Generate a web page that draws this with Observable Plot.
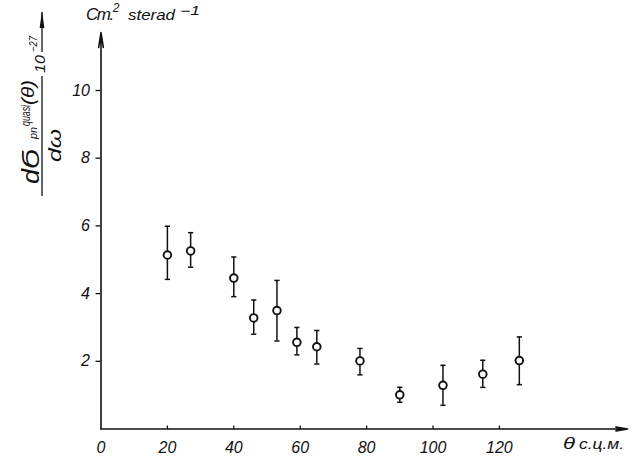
<!DOCTYPE html>
<html>
<head>
<meta charset="utf-8">
<script src="https://cdn.jsdelivr.net/npm/d3@7"></script>
<script src="https://cdn.jsdelivr.net/npm/@observablehq/plot@0.6"></script>
<style>
  html, body { margin: 0; padding: 0; background: #fff; }
</style>
</head>
<body>
<div id="chart"></div>
<script>
// ---- data ----
const theta   = [20, 27, 40, 46, 53, 59, 65, 78, 90, 103, 115, 126];
const sigma   = [5.14, 5.26, 4.46, 3.28, 3.50, 2.56, 2.43, 2.01, 1.01, 1.29, 1.62, 2.02];
const errLow  = [4.42, 4.78, 3.91, 2.80, 2.60, 2.19, 1.92, 1.60, 0.79, 0.70, 1.23, 1.31];
const errHigh = [5.99, 5.80, 5.08, 3.81, 4.39, 3.00, 2.91, 2.38, 1.23, 1.88, 2.03, 2.72];
const xTicks  = [0, 20, 40, 60, 80, 100, 120];
const yTicks  = [2, 4, 6, 8, 10];
const xAxisEnd = 158.6;
const yAxisEnd = 11.71;

const data = theta.map((t, i) => ({theta: t, sigma: sigma[i], lo: errLow[i], hi: errHigh[i]}));

const FONT = "'Liberation Sans', 'DejaVu Sans', sans-serif";
const INK = "#111";

const capSymbol = {draw(ctx) { ctx.moveTo(-2.6, 0); ctx.lineTo(2.6, 0); }};
const upTick = {draw(ctx) { ctx.moveTo(0, 0); ctx.lineTo(0, -3.5); }};

function labels() {
  const g = d3.create("svg:g")
    .attr("fill", INK)
    .attr("font-family", FONT)
    .attr("font-style", "italic")
    .attr("text-anchor", "start");
  const rot = (x, y, txt, size, len) =>
    g.append("text")
      .attr("transform", `translate(${x},${y}) rotate(-90)`)
      .attr("font-size", size)
      .attr("text-anchor", "start")
      .attr("textLength", len)
      .attr("lengthAdjust", "spacingAndGlyphs")
      .text(txt);
  const txt = (x, y, s, size, len) => {
    const t = g.append("text")
      .attr("x", x).attr("y", y)
      .attr("font-size", size)
      .attr("text-anchor", "start")
      .text(s);
    if (len) t.attr("textLength", len).attr("lengthAdjust", "spacingAndGlyphs");
    return t;
  };
  // rotated y-axis quantity label
  rot(39, 184, "dϬ", 24, 35);
  rot(30, 126, "quasi", 12, 21);
  rot(37, 139, "pn", 10, 12);
  rot(34, 105, "(θ)", 19, 25);
  rot(45, 73, "10", 15, 18);
  rot(37, 52, "−27", 11, 16);
  rot(61, 162, "dω", 19, 33);
  // fraction bar
  g.append("line").attr("x1", 42).attr("x2", 42).attr("y1", 76).attr("y2", 196)
    .attr("stroke", INK).attr("stroke-width", 1.3);
  // arrow above
  g.append("line").attr("x1", 42).attr("x2", 42).attr("y1", 12).attr("y2", 52)
    .attr("stroke", INK).attr("stroke-width", 1.3);
  g.append("path").attr("d", "M42,11 L39.6,28 L44.4,28 Z").attr("fill", INK);

  // units at top
  const u = g.append("text").attr("x", 86).attr("y", 20).attr("font-size", 17).attr("text-anchor", "start");
  u.append("tspan").attr("letter-spacing", -1.5).text("Cm.");
  u.append("tspan").attr("dy", -8).attr("font-size", 12).text("2");
  txt(128, 20, "sterad", 15, 47);
  txt(180, 15, "−1", 12, 20);

  // x-axis quantity
  txt(563, 449, "θ", 17, 12);
  txt(579, 449, "c.ц.м.", 14, 45);
  return g.node();
}

const chart = Plot.plot({
  width: 635,
  height: 456,
  marginLeft: 100.5,
  marginRight: 3.3,
  marginTop: 22.3,
  marginBottom: 27.5,
  style: {font: `italic 16px ${FONT}`, color: INK, background: "#fff"},
  x: {domain: [0, 160]},
  y: {domain: [0, 12]},
  marks: [
    Plot.axisY({ticks: yTicks, tickSize: 5, tickPadding: 6, label: null, tickFormat: d => String(d), stroke: INK, strokeWidth: 1.3}),
    Plot.axisX({ticks: xTicks, tickSize: 0, tickPadding: 13, label: null, tickFormat: d => String(d)}),
    Plot.dot(xTicks.filter(d => d > 0), {x: d => d, y: 0, symbol: upTick, stroke: INK, strokeWidth: 1.3}),
    Plot.arrow([{x1: 0, y1: 0, x2: xAxisEnd, y2: 0}], {x1: "x1", y1: "y1", x2: "x2", y2: "y2", stroke: INK, strokeWidth: 1.6, headAngle: 18, headLength: 11}),
    Plot.arrow([{x1: 0, y1: 0, x2: 0, y2: yAxisEnd}], {x1: "x1", y1: "y1", x2: "x2", y2: "y2", stroke: INK, strokeWidth: 1.6, headAngle: 18, headLength: 14}),
    Plot.ruleX(data, {x: "theta", y1: "lo", y2: "hi", stroke: INK, strokeWidth: 1.5}),
    Plot.dot(data, {x: "theta", y: "lo", symbol: capSymbol, stroke: INK, strokeWidth: 1.5}),
    Plot.dot(data, {x: "theta", y: "hi", symbol: capSymbol, stroke: INK, strokeWidth: 1.5}),
    Plot.dot(data, {x: "theta", y: "sigma", r: 3.8, fill: "#fff", stroke: INK, strokeWidth: 1.9}),
    labels
  ]
});
document.getElementById("chart").appendChild(chart);
</script>
</body>
</html>
